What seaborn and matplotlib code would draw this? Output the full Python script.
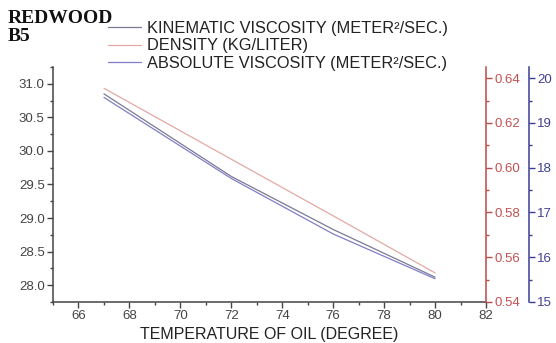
import matplotlib
matplotlib.use("Agg")
import matplotlib.pyplot as plt
from matplotlib.ticker import MultipleLocator
import seaborn as sns
import pandas as pd

# ---- data ----
temperature = [67, 72, 76, 80]
kinematic_viscosity = [30.85, 29.62, 28.83, 28.12]
density = [0.6355, 0.6038, 0.5785, 0.5530]
absolute_viscosity = [19.57, 17.76, 16.52, 15.52]

labels = ["KINEMATIC VISCOSITY (METER\u00b2/SEC.)",
          "DENSITY (KG/LITER)",
          "ABSOLUTE VISCOSITY (METER\u00b2/SEC.)"]

df = pd.DataFrame({"T": temperature, "kin": kinematic_viscosity,
                   "den": density, "abs": absolute_viscosity})

sns.set_theme(style="ticks")
plt.rcParams["font.family"] = ["Liberation Sans", "DejaVu Sans"]

c_kin, c_den, c_abs = "#7a7a92", "#e3a9a4", "#7f7fc8"
c_left, c_red, c_blue = "#444444", "#b84a4a", "#3c3c94"

fig = plt.figure(figsize=(5.56, 3.43), dpi=100)
ax = fig.add_axes([53 / 556, 41 / 343, 433 / 556, 235 / 343])
ax2 = ax.twinx()
ax3 = ax.twinx()
ax3.spines["right"].set_position(("outward", 31))

sns.lineplot(data=df, x="T", y="kin", ax=ax, color=c_kin, lw=0.9, label=labels[0], legend=False)
sns.lineplot(data=df, x="T", y="den", ax=ax2, color=c_den, lw=0.9, label=labels[1], legend=False)
sns.lineplot(data=df, x="T", y="abs", ax=ax3, color=c_abs, lw=0.9, label=labels[2], legend=False)

ax.set_xlim(65, 82)
ax.set_ylim(27.75, 31.25)
ax2.set_ylim(0.54, 0.645)
ax3.set_ylim(15, 20.25)

ax.xaxis.set_major_locator(MultipleLocator(2))
ax.xaxis.set_minor_locator(MultipleLocator(1))
ax.yaxis.set_major_locator(MultipleLocator(0.5))
ax.yaxis.set_minor_locator(MultipleLocator(0.25))
ax2.yaxis.set_major_locator(MultipleLocator(0.02))
ax2.yaxis.set_minor_locator(MultipleLocator(0.01))
ax3.yaxis.set_major_locator(MultipleLocator(1))
ax3.yaxis.set_minor_locator(MultipleLocator(0.5))
ax.yaxis.set_major_formatter(plt.FormatStrFormatter("%.1f"))
ax2.yaxis.set_major_formatter(plt.FormatStrFormatter("%.2f"))

for a in (ax, ax2, ax3):
    a.set_ylabel("")
    a.set_facecolor("none")
ax.set_xlabel("TEMPERATURE OF OIL (DEGREE)", fontsize=11.5, color="#222222", labelpad=3)

ax.spines["top"].set_visible(False)
ax.spines["right"].set_visible(False)
for a in (ax2, ax3):
    for s in ("top", "left", "bottom"):
        a.spines[s].set_visible(False)

for s in ("left", "bottom"):
    ax.spines[s].set_color(c_left)
    ax.spines[s].set_linewidth(1.1)
ax2.spines["right"].set_color(c_red)
ax2.spines["right"].set_linewidth(1.1)
ax3.spines["right"].set_color(c_blue)
ax3.spines["right"].set_linewidth(1.1)

ax.tick_params(axis="both", which="major", direction="out", length=4, width=1, color=c_left,
               labelsize=9.5, labelcolor="#444444", pad=2)
ax.tick_params(axis="both", which="minor", direction="out", length=2.5, width=1, color=c_left)
ax2.tick_params(axis="y", which="major", direction="out", length=4, width=1, color=c_red,
                labelsize=9.5, labelcolor="#c25050", pad=2)
ax2.tick_params(axis="y", which="minor", direction="out", length=2.5, width=1, color=c_red)
ax3.tick_params(axis="y", which="major", direction="out", length=4, width=1, color=c_blue,
                labelsize=9.5, labelcolor="#404098", pad=2)
ax3.tick_params(axis="y", which="minor", direction="out", length=2.5, width=1, color=c_blue)

handles = ax.get_lines()[:1] + ax2.get_lines()[:1] + ax3.get_lines()[:1]
fig.legend(handles, labels, loc="upper left", bbox_to_anchor=(108 / 556, 1 - 21 / 343),
           bbox_transform=fig.transFigure, frameon=False, borderpad=0, borderaxespad=0,
           handlelength=2.0, handletextpad=0.4, labelspacing=0.15, fontsize=11.8,
           labelcolor="#222222")

fig.text(8 / 556, 1 - 10 / 343, "REDWOOD\nB5", ha="left", va="top",
         fontfamily="Liberation Serif", fontweight="bold", fontsize=14,
         linespacing=1.05, color="#111111")

fig.savefig("out.png", dpi=100)
